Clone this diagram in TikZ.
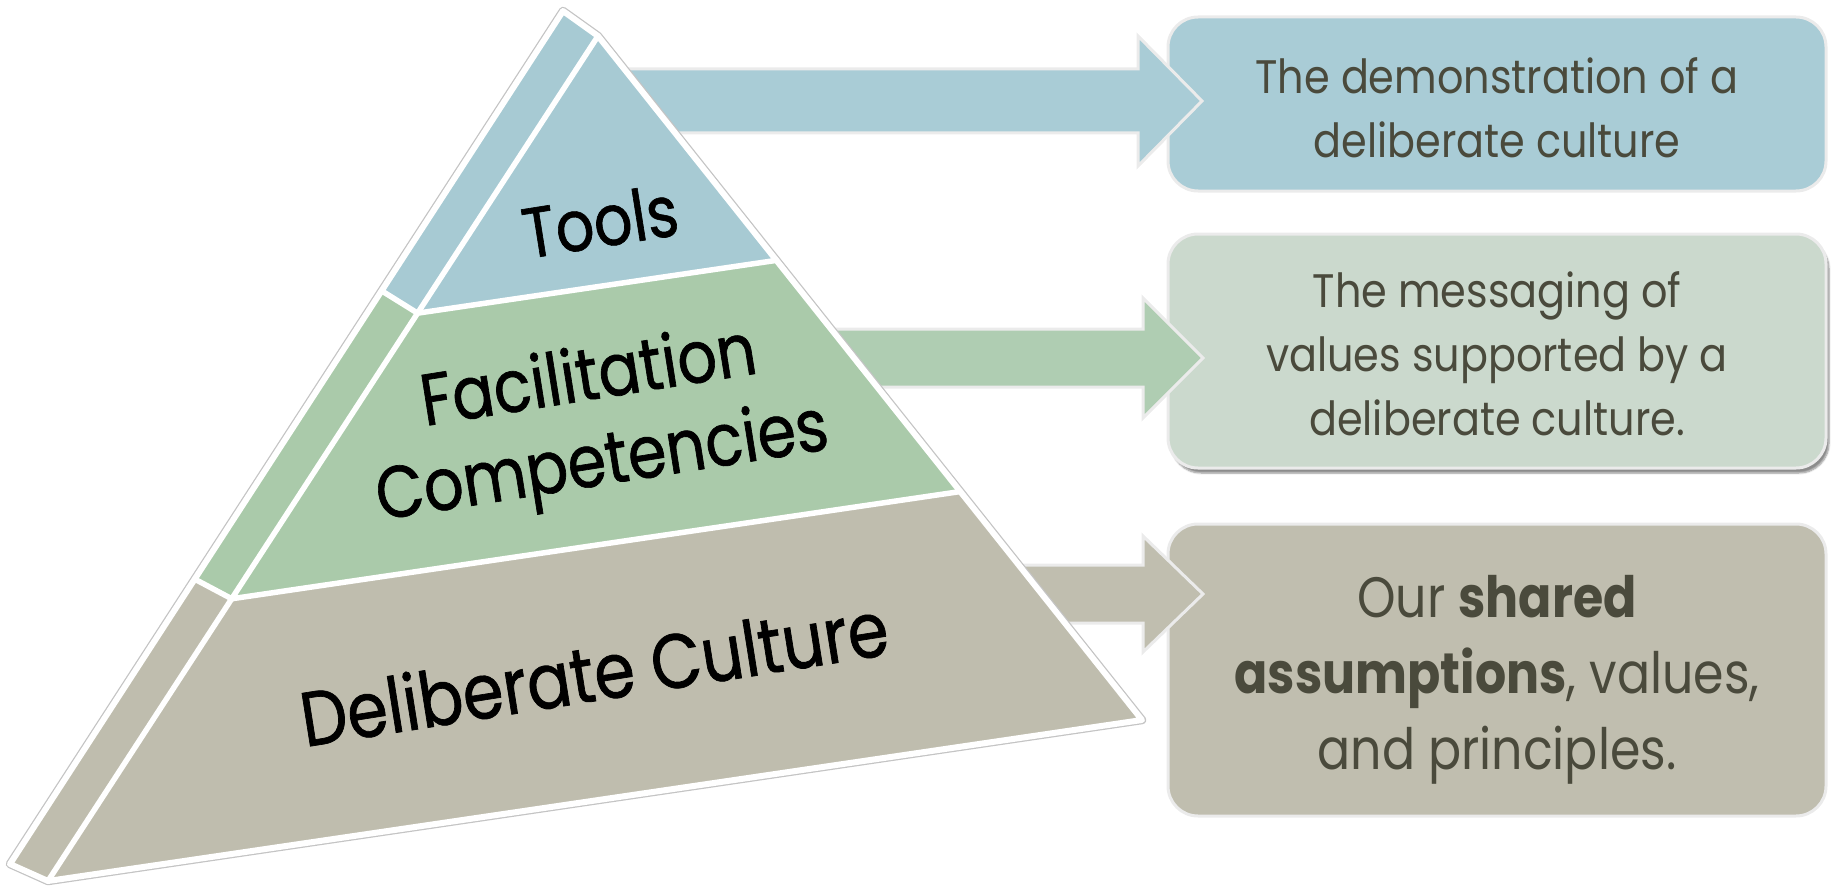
\documentclass[tikz,border=0pt]{standalone}
\usepackage{fontspec}
\usetikzlibrary{calc,shadows.blur}
\newfontfamily\tierfont[FakeStretch=0.85,FakeBold=0.9]{Poppins}
\newfontfamily\notefont[FakeStretch=0.88]{Poppins}
\newfontfamily\widenotefont[FakeStretch=0.86]{Poppins}
\definecolor{toolsblue}{HTML}{A7CAD3}
\definecolor{facgreen}{HTML}{AACAAA}
\definecolor{cultgray}{HTML}{BFBDAE}
\definecolor{noteblue}{HTML}{A9CCD6}
\definecolor{notegreen}{HTML}{CBD9CD}
\definecolor{notegray}{HTML}{C0BEAF}
\definecolor{arrowgreen}{HTML}{AFCDB2}
\definecolor{notetext}{HTML}{4A4A3C}
\definecolor{rimgray}{HTML}{EBEBEB}
\definecolor{edgegray}{HTML}{C4C4C4}
\begin{document}
\begin{tikzpicture}[x=1pt,y=-1pt,
  notebox/.style={draw=rimgray, line width=3pt, rounded corners=30pt,
    minimum width=658pt, inner sep=0pt},
  notetext/.style={align=center, text=notetext, inner sep=0pt,
    font=\notefont\fontsize{47}{64}\selectfont},
  blockarrow/.style={draw=rimgray, line width=3pt, line join=miter},
  tierlabel/.style={font=\tierfont\fontsize{71}{86}\selectfont,
    align=center, rotate=9, inner sep=0pt},
  gap/.style={draw=white, line width=5.5pt, line cap=round},
]
\useasboundingbox (0,0) rectangle (1833,888);

% explanation boxes
\node[notebox, fill=noteblue, minimum height=174pt] (b1) at (1497,104) {};
\node[notetext] (b1text) at (1497,108)
  {The demonstration of a\\deliberate culture};
\node[notebox, fill=notegreen, minimum height=234pt,
  blur shadow={shadow xshift=3pt, shadow yshift=-5pt, shadow opacity=45,
    shadow blur steps=6}] (b2) at (1497,351) {};
\node[notetext] (b2text) at (1497,354)
  {The messaging of\\values supported by a\\deliberate culture.};
\node[notebox, fill=notegray, minimum height=292pt] (b3) at (1497,670) {};
\node[notetext, font=\widenotefont\fontsize{57}{76}\selectfont] (b3text)
  at (1497,680)
  {Our \textbf{shared}\\\textbf{assumptions}, values,\\and principles.};

% block arrows, tails hidden behind the pyramid
\coordinate (tipA) at (1202,101);
\coordinate (tipB) at (1203,358);
\coordinate (tipC) at (1203,594);
\draw[blockarrow, fill=noteblue] (tipA) -- ++(-64,-65) -- ++(0,33)
  -- ++(-560,0) -- ++(0,64) -- ++(560,0) -- ++(0,33) -- cycle;
\draw[blockarrow, fill=arrowgreen] (tipB) -- ++(-60,-60) -- ++(0,31)
  -- ++(-343,0) -- ++(0,58) -- ++(343,0) -- ++(0,31) -- cycle;
\draw[blockarrow, fill=notegray] (tipC) -- ++(-60,-58) -- ++(0,29)
  -- ++(-143,0) -- ++(0,58) -- ++(143,0) -- ++(0,29) -- cycle;

% pyramid geometry
\coordinate (Ts) at (563,11);
\coordinate (Bs) at (10,864);
\coordinate (A) at (598,36);
\coordinate (L) at (48,881);
\coordinate (R) at (1142,720);
\coordinate (P1) at ($(A)!0.328!(L)$);
\coordinate (Q1) at ($(A)!0.328!(R)$);
\coordinate (S1) at ($(Ts)!0.328!(Bs)$);
\coordinate (P2) at ($(A)!0.666!(L)$);
\coordinate (Q2) at ($(A)!0.666!(R)$);
\coordinate (S2) at ($(Ts)!0.666!(Bs)$);

\draw[edgegray, line width=8.5pt, line join=round]
  (Ts) -- (A) -- (R) -- (L) -- (Bs) -- cycle;
% side faces
\fill[toolsblue] (Ts) -- (A) -- (P1) -- (S1) -- cycle;
\fill[facgreen] (S1) -- (P1) -- (P2) -- (S2) -- cycle;
\fill[cultgray] (S2) -- (P2) -- (L) -- (Bs) -- cycle;
% front faces
\fill[toolsblue] (A) -- (Q1) -- (P1) -- cycle;
\fill[facgreen] (P1) -- (Q1) -- (Q2) -- (P2) -- cycle;
\fill[cultgray] (P2) -- (Q2) -- (R) -- (L) -- cycle;
\draw[white, line width=6pt, line join=round]
  (Ts) -- (A) -- (R) -- (L) -- (Bs) -- cycle;
\draw[gap] (A) -- (L);
\draw[gap] (P1) -- (Q1);
\draw[gap] (P2) -- (Q2);
\draw[gap] (S1) -- (P1);
\draw[gap] (S2) -- (P2);

% tier labels
\node[tierlabel] (tools) at (600,221) {Tools};
\node[tierlabel, font=\tierfont\fontsize{73}{86}\selectfont] (facil)
  at (596,424) {Facilitation\\Competencies};
\node[tierlabel, font=\tierfont\fontsize{77}{86}\selectfont] (cult)
  at (594,672) {Deliberate Culture};
\end{tikzpicture}
\end{document}
